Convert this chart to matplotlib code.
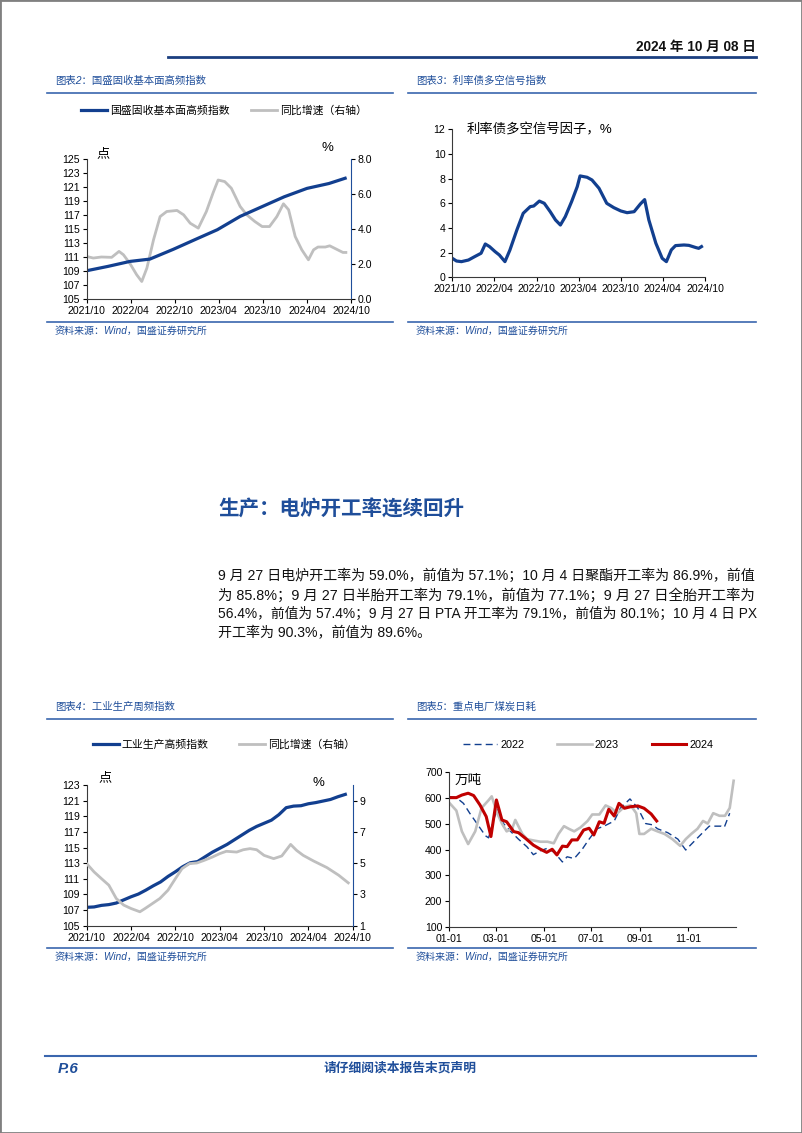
import numpy as np
import matplotlib.pyplot as plt
from matplotlib.lines import Line2D
from matplotlib.patches import Rectangle

plt.rcParams['font.family'] = ['Liberation Sans', 'Noto Sans CJK SC']
plt.rcParams['axes.unicode_minus'] = False

W, H = 802, 1133

# 横轴标签（月份序号：0 = 2021/10）
month_ticks = [0, 6, 12, 18, 24, 30, 36]
month_labels = ['2021/10', '2022/04', '2022/10', '2023/04', '2023/10', '2024/04', '2024/10']

# 图表2：国盛固收基本面高频指数
gs_m = [0, 2.9, 5.9, 8.6, 10.2, 11.8, 15.0, 17.8, 20.9, 23.9, 26.9, 30.0, 33.0, 35.2]
gs_idx = [109.04, 109.66, 110.37, 110.7, 111.4, 112.1, 113.6, 114.9, 116.8, 118.2,
          119.6, 120.8, 121.5, 122.25]
gs_yoy_m = [0, 0.9, 2.0, 3.4, 4.4, 5.0, 5.9, 6.8, 7.5, 8.2, 9.1, 10.0, 10.9, 12.3, 13.2,
            14.1, 15.2, 16.3, 17.2, 17.9, 18.8, 19.7, 20.9, 21.8, 22.9, 23.9, 24.9, 25.9,
            26.8, 27.5, 28.4, 29.3, 30.2, 30.9, 31.5, 32.5, 33.1, 34.0, 34.9, 35.3]
gs_yoy = [2.43, 2.34, 2.4, 2.38, 2.72, 2.53, 2.02, 1.39, 1.0, 1.77, 3.38, 4.71, 5.0, 5.06,
          4.81, 4.33, 4.05, 5.0, 6.05, 6.8, 6.71, 6.33, 5.29, 4.81, 4.43, 4.14, 4.14, 4.71,
          5.44, 5.1, 3.57, 2.81, 2.24, 2.81, 2.97, 2.97, 3.04, 2.85, 2.66, 2.66]

# 图表3：利率债多空信号指数
sig_m = [0, 0.6, 1.3, 2.3, 3.2, 4.1, 4.7, 5.3, 6.1, 6.7, 7.5, 8.2, 9.2, 10.1, 11.1, 11.6,
         12.4, 13.1, 13.95, 14.7, 15.4, 16.1, 17.0, 17.8, 18.2, 19.2, 19.9, 20.9, 22.0,
         23.0, 24.0, 24.9, 25.9, 26.8, 27.4, 28.0, 29.0, 29.9, 30.5, 31.2, 31.8, 33.0,
         33.7, 34.7, 35.1, 35.5]
sig_val = [1.54, 1.32, 1.27, 1.4, 1.68, 1.95, 2.7, 2.49, 2.08, 1.81, 1.27, 2.2, 3.84, 5.19,
           5.73, 5.78, 6.18, 6.0, 5.32, 4.65, 4.24, 4.92, 6.14, 7.35, 8.22, 8.11, 7.89, 7.22,
           6.0, 5.65, 5.38, 5.24, 5.32, 5.95, 6.3, 4.65, 2.76, 1.54, 1.27, 2.22, 2.57, 2.62,
           2.59, 2.41, 2.35, 2.49]

# 图表4：工业生产周频指数
ind_m = list(range(36))
ind_idx = [107.35, 107.4, 107.6, 107.7, 107.9, 108.3, 108.7, 109.05, 109.55, 110.1, 110.6,
           111.3, 111.9, 112.55, 113.05, 113.2, 113.8, 114.4, 114.9, 115.4, 116.0, 116.6,
           117.2, 117.7, 118.1, 118.5, 119.2, 120.1, 120.3, 120.35, 120.6, 120.75, 120.95,
           121.15, 121.5, 121.8]
ind_yoy_m = [0, 1.0, 2.0, 3.0, 4.0, 5.0, 6.0, 7.2, 7.9, 8.9, 9.9, 11.0, 12.0, 12.9, 13.9,
             14.9, 15.9, 17.0, 18.0, 18.9, 20.3, 21.2, 22.1, 23.0, 24.0, 25.3, 26.4, 27.6,
             28.4, 29.3, 30.7, 32.5, 34.1, 35.4]
ind_yoy = [4.97, 4.44, 4.01, 3.59, 2.74, 2.32, 2.1, 1.89, 2.1, 2.42, 2.74, 3.27, 4.01, 4.65,
           4.97, 5.01, 5.18, 5.39, 5.61, 5.76, 5.71, 5.86, 5.93, 5.86, 5.5, 5.29, 5.46, 6.2,
           5.82, 5.5, 5.14, 4.72, 4.23, 3.74]

# 图表5：重点电厂煤炭日耗（横轴为年内天数）
day_ticks = [0, 59, 120, 181, 243, 304]
day_labels = ['01-01', '03-01', '05-01', '07-01', '09-01', '11-01']
d22 = [0, 9, 18, 26, 35, 46, 50, 57, 61, 66, 69, 78, 88, 99, 107, 116, 125, 133, 139, 144,
       150, 159, 169, 178, 188, 197, 210, 218, 230, 240, 250, 259, 265, 278, 291, 301, 308,
       321, 331, 346, 350, 357]
c22 = [604, 600, 578, 540, 501, 453, 445, 520, 555, 520, 500, 470, 440, 410, 380, 395, 405,
       390, 370, 352, 372, 365, 400, 440, 480, 490, 510, 560, 595, 560, 500, 495, 480, 465,
       440, 398, 420, 460, 490, 490, 485, 540]
d23 = [0, 9, 16, 24, 33, 41, 50, 54, 61, 67, 73, 80, 84, 93, 99, 107, 116, 125, 133, 139,
       146, 152, 159, 167, 176, 182, 191, 199, 206, 214, 223, 231, 238, 242, 248, 257, 265,
       274, 284, 294, 301, 308, 316, 323, 329, 336, 344, 351, 357, 362]
c23 = [580, 550, 470, 421, 470, 560, 590, 605, 540, 500, 470, 480, 514, 460, 440, 435, 430,
       430, 424, 460, 490, 480, 470, 485, 510, 535, 535, 570, 560, 540, 565, 570, 540, 460,
       460, 480, 470, 460, 440, 414, 440, 460, 480, 510, 500, 540, 530, 530, 560, 665]
d24 = [0, 9, 16, 24, 31, 39, 47, 53, 60, 67, 73, 82, 88, 97, 107, 116, 124, 131, 137, 144,
       150, 156, 163, 171, 178, 184, 191, 197, 203, 210, 216, 223, 231, 240, 248, 257, 264]
c24 = [600, 600, 610, 617, 608, 572, 527, 450, 591, 514, 507, 469, 465, 443, 417, 401, 389,
       401, 379, 413, 411, 437, 437, 475, 482, 456, 507, 501, 555, 529, 578, 559, 565, 568,
       559, 537, 510]

BLUE = '#123F8F'
GREY = '#BFBFBF'
RED = '#C00000'
NAVY = '#1F4E9A'
RULE = '#3A66AE'

fig = plt.figure(figsize=(W / 100, H / 100), dpi=100)


def box(l, t, r, b):
    return [l / W, 1 - b / H, (r - l) / W, (b - t) / H]


def put(x, y, s, **kw):
    kw.setdefault('va', 'center')
    return fig.text(x / W, 1 - y / H, s, **kw)


def hline(x0, x1, y, color=RULE, lw=1.2):
    fig.add_artist(Line2D([x0 / W, x1 / W], [1 - y / H] * 2, color=color, lw=lw,
                          transform=fig.transFigure))


def style(ax):
    for s in ['top', 'right']:
        ax.spines[s].set_visible(False)
    for s in ['left', 'bottom']:
        ax.spines[s].set_color('#3a3a3a')
        ax.spines[s].set_linewidth(0.8)
    ax.tick_params(labelsize=7.6, length=3, width=0.8, pad=2)
    ax.patch.set_visible(False)


def legend_at(ax, handles, labels, x, y, hl, cs):
    ax.legend(handles, labels, loc='center', bbox_to_anchor=(x / W, 1 - y / H),
              bbox_transform=fig.transFigure, ncol=len(handles), frameon=False,
              fontsize=7.8, handlelength=hl, handletextpad=0.3, columnspacing=cs,
              borderpad=0, borderaxespad=0)


# 页面边框、页眉、页脚
fig.add_artist(Rectangle((0, 0), 1, 1, transform=fig.transFigure, fill=False,
                         edgecolor='#808080', lw=2))
put(756, 47, '2024 年 10 月 08 日', ha='right', fontsize=9.8, fontweight='bold', color='#111111')
hline(168, 756, 57, color='#1B3F80', lw=2)
hline(45, 756, 1056, color=RULE, lw=1.5)
put(58, 1069, 'P.6', ha='left', fontsize=11, fontweight='bold', style='italic', color=NAVY)
put(400, 1068, '请仔细阅读本报告末页声明', ha='center', fontsize=9.2, fontweight='bold',
    style='italic', color=NAVY)

# 图表标题和来源
for x0, x1, tx, ty, title in [(47, 393, 55, 81, '图表2：国盛固收基本面高频指数'),
                              (408, 756, 416, 81, '图表3：利率债多空信号指数'),
                              (47, 393, 55, 707, '图表4：工业生产周频指数'),
                              (408, 756, 416, 707, '图表5：重点电厂煤炭日耗')]:
    put(tx, ty, title, ha='left', fontsize=7.5, style='italic', color=NAVY)
    hline(x0, x1, ty + 12)
for x0, x1, tx, ty in [(47, 393, 55, 331), (408, 756, 416, 331),
                       (47, 393, 55, 957), (408, 756, 416, 957)]:
    hline(x0, x1, ty - 9)
    put(tx, ty, '资料来源：Wind，国盛证券研究所', ha='left', fontsize=7.2, style='italic',
        color=NAVY)

# 正文（前三行两端对齐）
put(218, 509, '生产：电炉开工率连续回升', ha='left', fontsize=14.8, fontweight='bold',
    color=NAVY)
body = ['9 月 27 日电炉开工率为 59.0%，前值为 57.1%；10 月 4 日聚酯开工率为 86.9%，前值',
        '为 85.8%；9 月 27 日半胎开工率为 79.1%，前值为 77.1%；9 月 27 日全胎开工率为',
        '56.4%，前值为 57.4%；9 月 27 日 PTA 开工率为 79.1%，前值为 80.1%；10 月 4 日 PX',
        '开工率为 90.3%，前值为 89.6%。']
renderer = fig.canvas.get_renderer()
for i, line in enumerate(body):
    t = put(218, 576 + 19 * i, line, ha='left', fontsize=10.1, color='#111111')
    if i < 3:
        w = t.get_window_extent(renderer).width
        t.set_fontsize(10.1 * (756 - 218) / w)

# 图表2
ax = fig.add_axes(box(86.7, 159, 351, 299))
ax2 = ax.twinx()
style(ax)
ax2.spines['top'].set_visible(False)
ax2.spines['left'].set_visible(False)
ax2.spines['bottom'].set_visible(False)
ax2.spines['right'].set_color(NAVY)
ax2.tick_params(labelsize=7.6, length=3, width=0.8, pad=2)
l2, = ax2.plot(gs_yoy_m, gs_yoy, color=GREY, lw=2.0, solid_joinstyle='round')
l1, = ax.plot(gs_m, gs_idx, color=BLUE, lw=2.3, solid_joinstyle='round')
ax.set_zorder(ax2.get_zorder() + 1)
ax.set_xlim(0, 36)
ax.set_ylim(105, 125)
ax.set_yticks(range(105, 126, 2))
ax.set_xticks(month_ticks, month_labels)
ax2.set_ylim(0, 8)
ax2.set_yticks([0, 2, 4, 6, 8], ['0.0', '2.0', '4.0', '6.0', '8.0'])
legend_at(ax, [l1, l2], ['国盛固收基本面高频指数', '同比增速（右轴）'], 224, 111, 2.4, 2.0)
put(103, 154, '点', ha='center', fontsize=9.5)
put(327, 148, '%', ha='center', fontsize=9.5)

# 图表3
ax = fig.add_axes(box(452.3, 129.3, 705, 277.3))
style(ax)
ax.plot(sig_m, sig_val, color=BLUE, lw=2.3, solid_joinstyle='round')
ax.set_xlim(0, 36)
ax.set_ylim(0, 12)
ax.set_yticks(range(0, 13, 2))
ax.set_xticks(month_ticks, month_labels)
put(467, 130, '利率债多空信号因子，%', ha='left', fontsize=9.6)

# 图表4
ax = fig.add_axes(box(86.7, 785, 352.7, 925.7))
ax2 = ax.twinx()
style(ax)
ax2.spines['top'].set_visible(False)
ax2.spines['left'].set_visible(False)
ax2.spines['bottom'].set_visible(False)
ax2.spines['right'].set_color(NAVY)
ax2.tick_params(labelsize=7.6, length=3, width=0.8, pad=2)
l1, = ax.plot(ind_m, ind_idx, color=BLUE, lw=2.3, solid_joinstyle='round')
l2, = ax2.plot(ind_yoy_m, ind_yoy, color=GREY, lw=2.0, solid_joinstyle='round')
ax.set_xlim(0, 36)
ax.set_ylim(105, 123)
ax.set_yticks(range(105, 124, 2))
ax.set_xticks(month_ticks, month_labels)
ax2.set_ylim(1, 10)
ax2.set_yticks([1, 3, 5, 7, 9])
legend_at(ax, [l1, l2], ['工业生产高频指数', '同比增速（右轴）'], 224, 745, 2.4, 2.8)
put(105, 778, '点', ha='center', fontsize=9.5)
put(318, 783, '%', ha='center', fontsize=9.5)

# 图表5
ax = fig.add_axes(box(449.3, 771.7, 736, 927.3))
style(ax)
a, = ax.plot(d22, c22, color=BLUE, lw=1.0, linestyle=(0, (5, 3)))
b, = ax.plot(d23, c23, color=GREY, lw=1.9, solid_joinstyle='round')
c, = ax.plot(d24, c24, color=RED, lw=2.2, solid_joinstyle='round')
ax.set_xlim(0, 365)
ax.set_ylim(100, 700)
ax.set_yticks(range(100, 701, 100))
ax.set_xticks(day_ticks, day_labels)
legend_at(ax, [a, b, c], ['2022', '2023', '2024'], 588, 745, 3.2, 3.0)
put(468, 780, '万吨', ha='center', fontsize=9.8)

fig.savefig('out.png', dpi=100)
